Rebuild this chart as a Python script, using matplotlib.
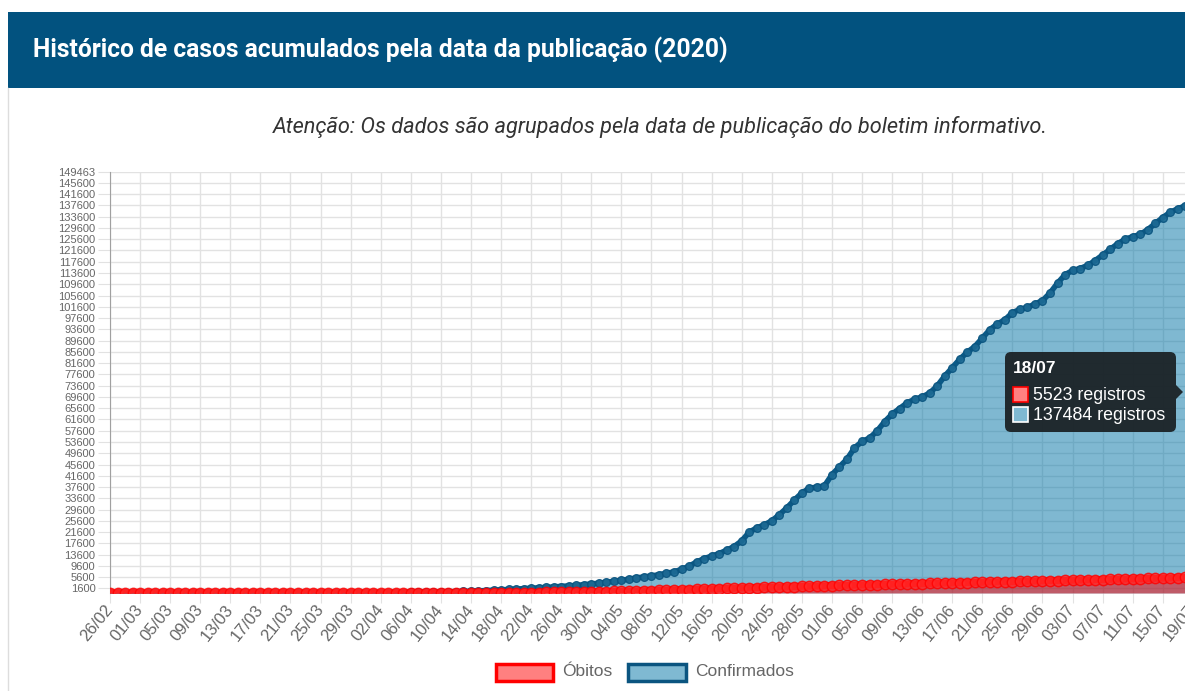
import numpy as np
import pandas as pd
import matplotlib
matplotlib.use('Agg')
import matplotlib.pyplot as plt
from matplotlib.patches import Rectangle, FancyBboxPatch, Polygon

# ---- data (cumulative by publication date, 2020) ----
start_date = '2020-02-26'

confirmados = ([0] * 21 +
	[1, 1, 2, 2, 4, 4, 7, 7, 13, 18, 24, 33, 42, 58, 74, 89, 103, 130, 160, 192,
	 233, 272, 320, 371, 420, 480, 550] +
	[640, 740, 860, 980, 1110, 1250, 1390, 1520, 1650, 1810,
	 1980, 2150, 2300, 2480, 2690, 2930, 3200, 3480, 3800, 4150,
	 4500, 4900, 5350, 5700, 6050, 6500, 7000, 7500, 8400, 9500,
	 11000, 12200, 13100, 14000, 15200, 16500, 18500, 21600, 23100, 24200,
	 25600, 27800, 30200, 33000, 35500, 37200, 37600, 38000, 42000, 44800,
	 47500, 51500, 53800, 55000, 57500, 60800, 63500, 65500, 67500, 68800,
	 69600, 71000, 73500, 77000, 80000, 83000, 85500, 87500, 90500, 93500,
	 95500, 97000, 99500, 100700, 101400, 102600, 103800, 106500, 110000, 113000,
	 114500, 115200, 116300, 118000, 120000, 122000, 124000, 125600, 126500, 127300,
	 129000, 131200, 133300, 135200, 136400, 137484])

obitos = ([0] * 30 +
	[1, 1, 2, 2, 3, 4, 5, 6, 7, 9,
	 11, 13, 15, 18, 22, 26, 31, 37, 44, 52,
	 60, 70, 82, 95, 110, 128, 148, 170, 195, 222,
	 252, 285, 320, 360, 400, 445, 495, 545, 600, 660,
	 720, 790, 860, 930, 1000, 1080, 1160, 1240, 1320, 1400,
	 1480, 1560, 1640, 1720, 1800, 1880, 1950, 2020, 2090, 2160,
	 2230, 2300, 2370, 2430, 2490, 2550, 2620, 2690, 2750, 2810,
	 2860, 2935, 2985, 3060, 3105, 3180, 3225, 3300, 3345, 3420,
	 3470, 3530, 3590, 3650, 3710, 3770, 3830, 3890, 3950, 4010,
	 4070, 4130, 4190, 4250, 4310, 4370, 4430, 4490, 4550, 4610,
	 4670, 4730, 4790, 4850, 4910, 4970, 5030, 5090, 5150, 5210,
	 5270, 5340, 5430, 5523])

y_max = 149463
y_ticks = list(range(1600, 145601, 4000)) + [y_max]

dates = pd.date_range(start_date, periods=len(confirmados), freq='D')
tick_dates = pd.date_range(start_date, periods=38, freq='4D')
tick_labels = [d.strftime('%d/%m') for d in tick_dates]

W, H = 1185, 691
fig = plt.figure(figsize=(W / 100, H / 100), dpi=100)
fig.patch.set_facecolor('white')

# plot area: left edge at x=110px, baseline at y=593px, top at y=172px, ~7.52 px per day
px_day = 7.52
x_max = 150
ax = fig.add_axes([110 / W, (H - 593) / H, x_max * px_day / W, (593 - 172) / H])
x = np.arange(len(confirmados))

ax.fill_between(x, 0, confirmados, color='#0073a5', alpha=0.5, lw=0, zorder=2)
ax.plot(x, confirmados, color='#0b5a87', lw=4, zorder=3)
ax.plot(x, confirmados, 'o', ms=5.5, mfc='#1d6a94', mec='#0b5580', mew=1, alpha=0.9, zorder=3)

ax.fill_between(x, 0, obitos, color='#ff0000', alpha=0.5, lw=0, zorder=4)
ax.plot(x, obitos, color='#ff0000', lw=5, zorder=5)
ax.plot(x, obitos, 'o', ms=7.5, mfc='#ff2a2a', mec='#ff0000', mew=1, alpha=0.8, zorder=5)

ax.set_xlim(0, x_max)
ax.set_ylim(0, y_max)
ax.set_yticks(y_ticks)
ax.set_yticklabels([str(v) for v in y_ticks])
ax.set_xticks(np.arange(0, len(tick_labels) * 4, 4))
ax.set_xticklabels(tick_labels, rotation=51, ha='right', va='center', rotation_mode='anchor')

grid_c = '#e2e2e2'
ax.grid(True, color=grid_c, lw=1, zorder=1)
ax.set_axisbelow(True)
for s in ['top', 'right', 'bottom']:
	ax.spines[s].set_visible(False)
ax.spines['left'].set_color('#a0a0a0')
ax.tick_params(axis='y', length=9, color=grid_c, pad=1.5, labelsize=8, labelcolor='#666666')
ax.tick_params(axis='x', length=7, color=grid_c, pad=3, labelsize=12, labelcolor='#666666')
for t in ax.get_xticklabels() + ax.get_yticklabels():
	t.set_fontfamily('Liberation Sans')

# ---- overlay in pixel coordinates: card, header, legend, tooltip ----
ov = fig.add_axes([0, 0, 1, 1], zorder=10)
ov.set_xlim(0, W)
ov.set_ylim(H, 0)
ov.axis('off')
ov.patch.set_visible(False)

ov.add_patch(Rectangle((8, 12), W, 76, facecolor='#02527f', edgecolor='none'))
ov.plot([8, 8], [88, H], color='#dddddd', lw=1)
ov.text(33, 50, 'Histórico de casos acumulados pela data da publicação (2020)',
	color='white', fontsize=17.7, fontweight='bold', family='Roboto', va='center', ha='left')
ov.text(660, 127, 'Atenção: Os dados são agrupados pela data de publicação do boletim informativo.',
	color='#333333', fontsize=15.7, style='italic', family='Roboto', va='center', ha='center')

# legend
ov.add_patch(Rectangle((496, 664), 57, 17, facecolor='#ff8080', edgecolor='#ff0000', lw=2.5))
ov.text(562, 672, 'Óbitos', color='#666666', fontsize=12.5, family='Liberation Sans', va='center')
ov.add_patch(Rectangle((628, 664), 58, 17, facecolor='#7fb9d2', edgecolor='#0b5580', lw=2.5))
ov.text(695, 672, 'Confirmados', color='#666666', fontsize=12.5, family='Liberation Sans', va='center')

# tooltip for the last day
ov.add_patch(FancyBboxPatch((1005, 352), 171, 80, boxstyle='round,pad=0,rounding_size=6',
	facecolor='#1b2226', edgecolor='none', alpha=0.95))
ov.add_patch(Polygon([[1176, 385], [1183, 392], [1176, 399]], closed=True,
	facecolor='#1b2226', edgecolor='none', alpha=0.95))
ov.text(1013, 368, dates[-1].strftime('%d/%m'), color='white', fontsize=12.5, fontweight='bold',
	family='Liberation Sans', va='center')
ov.add_patch(Rectangle((1013, 387), 15, 15, facecolor='#ff8080', edgecolor='#ff0000', lw=1.2))
ov.text(1033, 395, '%d registros' % obitos[-1], color='white', fontsize=12.8,
	family='Liberation Sans', va='center')
ov.add_patch(Rectangle((1013, 407), 15, 15, facecolor='#7fb9d2', edgecolor='#ffffff', lw=1.2))
ov.text(1033, 415, '%d registros' % confirmados[-1], color='white', fontsize=12.8,
	family='Liberation Sans', va='center')

fig.savefig('out.png', dpi=100)
